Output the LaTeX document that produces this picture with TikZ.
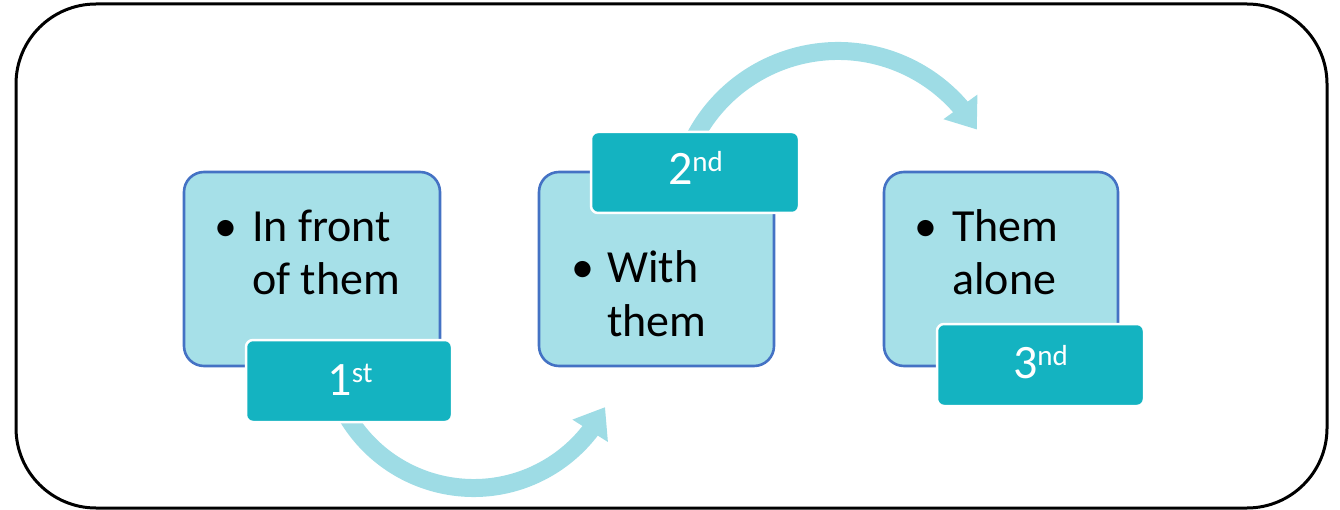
\documentclass[tikz,border=0pt]{standalone}
\usepackage{fontspec}
\setmainfont{Carlito}
\usetikzlibrary{arrows.meta,bending}
\definecolor{boxfill}{RGB}{166,224,232}
\definecolor{boxline}{RGB}{68,114,196}
\definecolor{tagfill}{RGB}{20,179,193}
\definecolor{flowcol}{RGB}{158,220,229}
\newcommand{\bigfont}{\fontsize{46pt}{55pt}\selectfont}
\newcommand{\tagfont}{\fontsize{48pt}{55pt}\selectfont}
\newcommand{\supr}[1]{\raisebox{13pt}{\fontsize{29pt}{29pt}\selectfont #1}}
\begin{document}
\begin{tikzpicture}[x=1pt,y=-1pt,
  stage/.style={draw=boxline, line width=2.6pt, fill=boxfill, rounded corners=20pt, inner sep=0pt, outer sep=0pt, minimum height=194pt},
  tag/.style={draw=white, line width=2.5pt, fill=tagfill, rounded corners=7pt, inner sep=0pt, minimum width=207pt, minimum height=82pt},
  tagtext/.style={text=white, font=\tagfont, anchor=base, inner sep=0pt},
  body/.style={font=\bigfont, anchor=base west, inner sep=0pt},
  bul/.style={font=\bigfont, anchor=base, inner sep=0pt},
  flow/.style={draw=flowcol, line width=18pt, -{Triangle[width=40pt,length=28pt]}},
  frame/.style={draw=black, line width=3pt, rounded corners=80pt},
]
\useasboundingbox (0,0) rectangle (1340,510);
\draw[frame] (16,4) rectangle (1327,508);

% curved arrows
\coordinate (c1) at (473.6,340.7);
\coordinate (c2) at (838,213);
\draw[flow] ([shift={(150:147.3)}]c1) arc[start angle=150, end angle=26.8, radius=147.3];
\draw[flow] ([shift={(-155:162)}]c2) arc[start angle=-155, end angle=-31, radius=162];

% stage boxes
\node[stage, minimum width=256pt] (s1) at (312,269) {};
\node[stage, minimum width=235pt] (s2) at (656.5,269) {};
\node[stage, minimum width=234pt] (s3) at (1001,269) {};

% texts
\node[bul] (b1) at (226,242) {•};
\node[body] (t1a) at (252,242) {In front};
\node[body] (t1b) at (252,295) {of them};
\node[bul] (b2) at (582.5,283) {•};
\node[body] (t2a) at (607,283) {With};
\node[body] (t2b) at (607,337) {them};
\node[bul] (b3) at (926,242) {•};
\node[body] (t3a) at (952,242) {Them};
\node[body] (t3b) at (952,295) {alone};

% tags
\node[tag, minimum width=206pt] (g1) at (349,381) {};
\node[tag, minimum width=208pt, minimum height=81pt] (g2) at (695,172.5) {};
\node[tag] (g3) at (1040.5,365) {};
\node[tagtext] (n1) at (350,395) {1\supr{st}};
\node[tagtext] (n2) at (695.5,185) {2\supr{nd}};
\node[tagtext] (n3) at (1040.5,378) {3\supr{nd}};
\end{tikzpicture}
\end{document}
